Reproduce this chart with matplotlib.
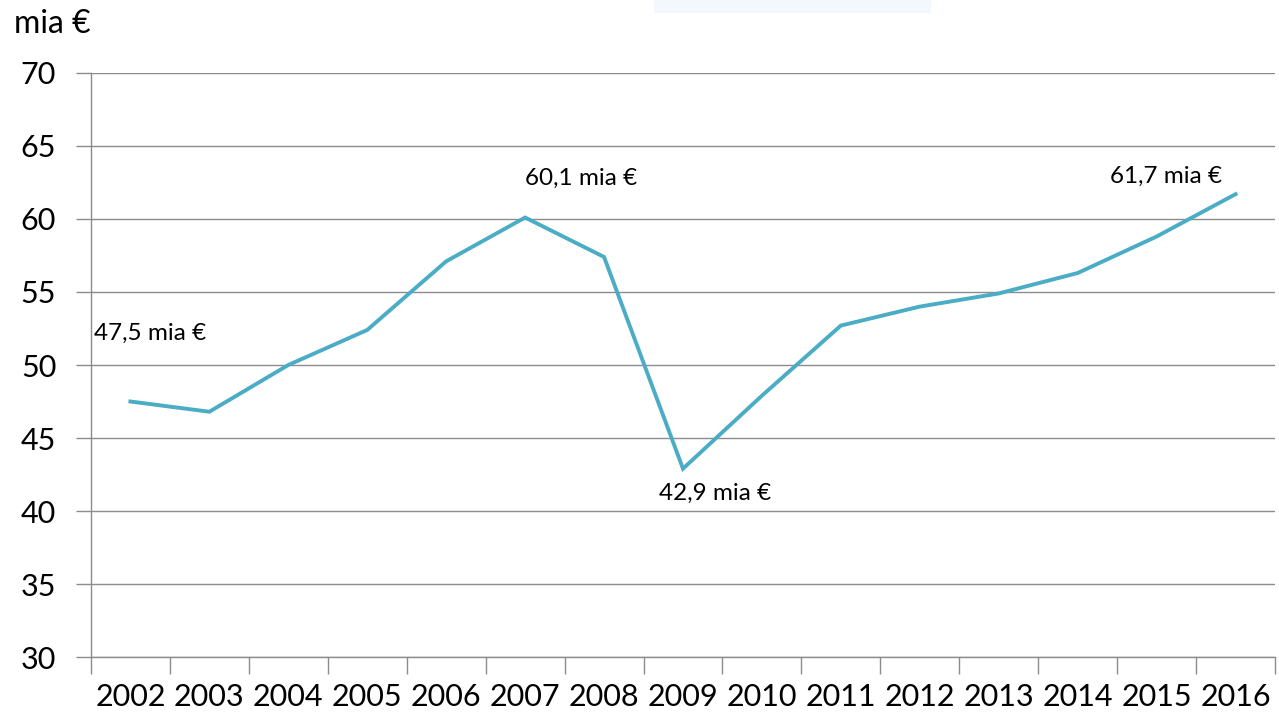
import numpy as np
import matplotlib
matplotlib.use('Agg')
import matplotlib.pyplot as plt
from matplotlib.patches import Rectangle

plt.rcParams['font.family'] = ['Lato', 'DejaVu Sans']

# data (mia €)
years = ['2002', '2003', '2004', '2005', '2006', '2007', '2008', '2009',
         '2010', '2011', '2012', '2013', '2014', '2015', '2016']
values = [47.5, 46.8, 50.0, 52.4, 57.1, 60.1, 57.4, 42.9,
          47.9, 52.7, 54.0, 54.9, 56.3, 58.8, 61.7]
labels = {0: '47,5 mia €', 5: '60,1 mia €', 7: '42,9 mia €', 14: '61,7 mia €'}

fig = plt.figure(figsize=(12.79, 7.19), dpi=100)
ax = fig.add_axes([0.0711, 0.0862, 0.9258, 0.8123])

x = np.arange(len(years))
ax.plot(x, values, color='#4BACC6', lw=2.8, solid_joinstyle='miter')

ax.set_xlim(-0.5, len(years) - 0.5)
ax.set_ylim(30, 70)
ax.set_yticks(np.arange(30, 71, 5))
ax.yaxis.grid(True, color='#8c8c8c', lw=1)
ax.set_axisbelow(True)

ax.set_xticks(x)
ax.set_xticklabels(years)
ax.set_xticks(np.arange(-0.5, len(years), 1), minor=True)
ax.tick_params(axis='x', which='major', length=0, pad=19, labelsize=22)
ax.tick_params(axis='x', which='minor', length=12, color='#8c8c8c', width=1)
ax.tick_params(axis='y', length=11, color='#8c8c8c', width=1, pad=14, labelsize=22)

for s in ['top', 'right']:
    ax.spines[s].set_visible(False)
for s in ['left', 'bottom']:
    ax.spines[s].set_color('#8c8c8c')
    ax.spines[s].set_linewidth(1)

# value annotations
ax.text(-0.46, 52.2, labels[0], fontsize=17.5, ha='left', va='center')
ax.text(5.71, 62.8, labels[5], fontsize=17.5, ha='center', va='center')
ax.text(7.41, 41.2, labels[7], fontsize=17.5, ha='center', va='center')
ax.text(13.12, 62.9, labels[14], fontsize=17.5, ha='center', va='center')

fig.text(0.011, 0.966, 'mia €', fontsize=23, ha='left', va='center')

# faint snip artefact at the top
fig.patches.append(Rectangle((654 / 1279, 1 - 13 / 719), 277 / 1279, 13 / 719,
                             transform=fig.transFigure, facecolor='#f2f8fd',
                             edgecolor='none'))

fig.savefig('out.png', dpi=100)
